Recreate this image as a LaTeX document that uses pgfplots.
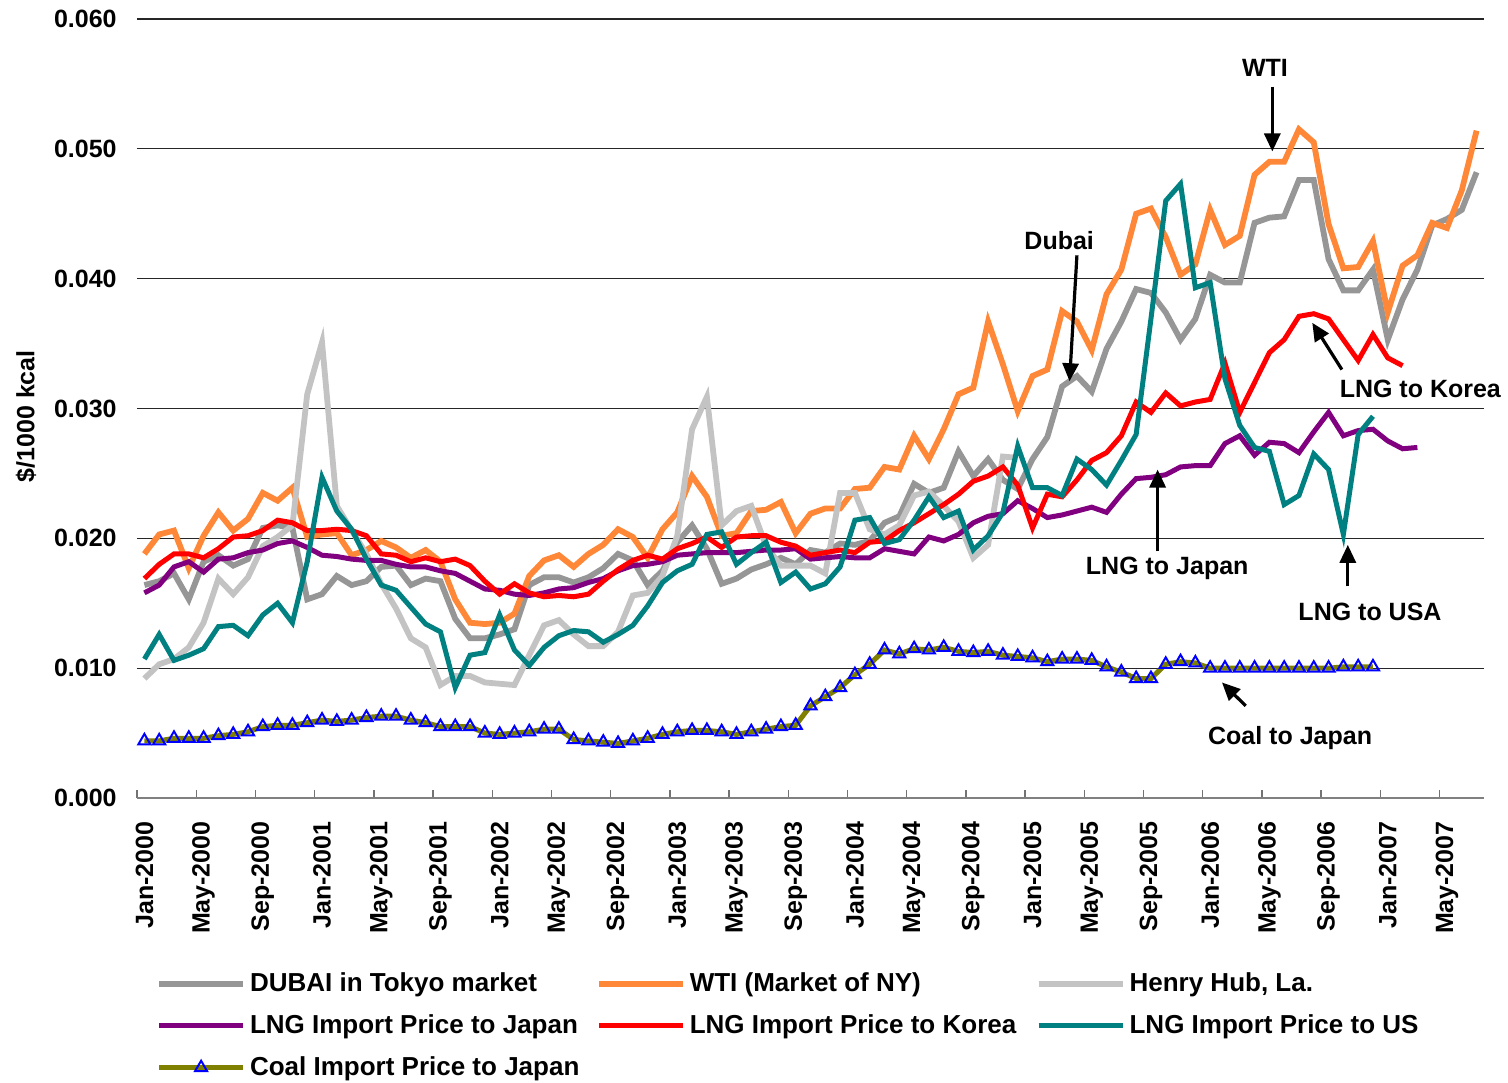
\documentclass[border=0pt]{standalone}
\usepackage{fontspec}
\setmainfont{Liberation Sans}
\usepackage{pgfplots}
\pgfplotsset{compat=1.18}
\usepackage{pgfplotstable}
\usetikzlibrary{arrows.meta}

\definecolor{dubai}{RGB}{150,150,150}
\definecolor{wti}{RGB}{255,136,56}
\definecolor{hh}{RGB}{195,195,195}
\definecolor{lngjp}{RGB}{128,0,128}
\definecolor{lngkr}{RGB}{255,0,0}
\definecolor{lngus}{RGB}{0,128,128}
\definecolor{coal}{RGB}{128,128,0}

\newcommand{\lbl}{\bfseries\fontsize{12.5}{15}\selectfont}

% monthly prices, $/1000 kcal; m = months since Jan-2000
\pgfplotstableread{
m  dubai  wti    hh     lngjp  lngkr  lngus  coal
0  0.0164 0.0188 0.0092 0.0158 0.0169 0.0107 0.0044
1  0.0167 0.0203 0.0103 0.0164 0.0180 0.0126 0.0044
2  0.0173 0.0206 0.0107 0.0178 0.0188 0.0106 0.0046
3  0.0153 0.0177 0.0116 0.0182 0.0188 0.0110 0.0046
4  0.0182 0.0202 0.0135 0.0174 0.0185 0.0115 0.0046
5  0.0187 0.0220 0.0169 0.0184 0.0192 0.0132 0.0048
6  0.0179 0.0206 0.0157 0.0185 0.0201 0.0133 0.0049
7  0.0184 0.0215 0.0170 0.0189 0.0202 0.0125 0.0051
8  0.0208 0.0235 0.0194 0.0191 0.0206 0.0141 0.0055
9  0.0210 0.0229 0.0201 0.0196 0.0214 0.0150 0.0056
10 0.0208 0.0239 0.0210 0.0198 0.0212 0.0135 0.0056
11 0.0153 0.0201 0.0311 0.0193 0.0206 0.0182 0.0058
12 0.0157 0.0203 0.0351 0.0187 0.0206 0.0247 0.0060
13 0.0171 0.0204 0.0225 0.0186 0.0207 0.0221 0.0059
14 0.0164 0.0187 0.0206 0.0184 0.0206 0.0207 0.0060
15 0.0167 0.0191 0.0188 0.0183 0.0202 0.0184 0.0062
16 0.0178 0.0198 0.0165 0.0183 0.0188 0.0164 0.0063
17 0.0179 0.0193 0.0146 0.0180 0.0187 0.0160 0.0063
18 0.0164 0.0185 0.0123 0.0178 0.0182 0.0147 0.0060
19 0.0169 0.0191 0.0116 0.0178 0.0185 0.0134 0.0058
20 0.0167 0.0182 0.0087 0.0175 0.0182 0.0128 0.0055
21 0.0138 0.0153 0.0094 0.0173 0.0184 0.0085 0.0055
22 0.0123 0.0135 0.0094 0.0167 0.0179 0.0110 0.0055
23 0.0123 0.0134 0.0089 0.0161 0.0167 0.0112 0.0050
24 0.0126 0.0135 0.0088 0.0160 0.0157 0.0141 0.0049
25 0.0130 0.0142 0.0087 0.0157 0.0165 0.0114 0.0050
26 0.0164 0.0171 0.0110 0.0156 0.0158 0.0102 0.0051
27 0.0170 0.0183 0.0133 0.0158 0.0155 0.0116 0.0053
28 0.0170 0.0187 0.0137 0.0161 0.0156 0.0125 0.0053
29 0.0166 0.0178 0.0126 0.0162 0.0155 0.0129 0.0045
30 0.0170 0.0188 0.0117 0.0166 0.0157 0.0128 0.0044
31 0.0177 0.0195 0.0117 0.0169 0.0167 0.0120 0.0043
32 0.0188 0.0207 0.0128 0.0175 0.0176 0.0126 0.0042
33 0.0183 0.0201 0.0156 0.0179 0.0183 0.0133 0.0044
34 0.0164 0.0185 0.0158 0.0180 0.0187 0.0148 0.0046
35 0.0175 0.0207 0.0171 0.0182 0.0184 0.0166 0.0049
36 0.0197 0.0220 0.0202 0.0187 0.0192 0.0175 0.0051
37 0.0210 0.0248 0.0284 0.0188 0.0196 0.0180 0.0052
38 0.0192 0.0232 0.0309 0.0189 0.0201 0.0203 0.0052
39 0.0165 0.0202 0.0210 0.0189 0.0193 0.0205 0.0051
40 0.0169 0.0204 0.0221 0.0189 0.0201 0.0180 0.0049
41 0.0176 0.0221 0.0225 0.0190 0.0202 0.0189 0.0051
42 0.0180 0.0222 0.0194 0.0191 0.0202 0.0197 0.0053
43 0.0185 0.0228 0.0179 0.0191 0.0197 0.0166 0.0055
44 0.0180 0.0204 0.0179 0.0192 0.0194 0.0174 0.0056
45 0.0191 0.0219 0.0179 0.0184 0.0187 0.0161 0.0071
46 0.0189 0.0223 0.0173 0.0185 0.0189 0.0165 0.0078
47 0.0196 0.0223 0.0235 0.0186 0.0191 0.0178 0.0085
48 0.0195 0.0238 0.0235 0.0185 0.0189 0.0214 0.0095
49 0.0198 0.0239 0.0207 0.0185 0.0197 0.0216 0.0103
50 0.0212 0.0255 0.0203 0.0192 0.0198 0.0196 0.0114
51 0.0217 0.0253 0.0210 0.0190 0.0206 0.0199 0.0111
52 0.0242 0.0279 0.0233 0.0188 0.0212 0.0214 0.0115
53 0.0235 0.0261 0.0236 0.0201 0.0219 0.0232 0.0114
54 0.0239 0.0284 0.0225 0.0198 0.0226 0.0216 0.0116
55 0.0267 0.0311 0.0213 0.0203 0.0234 0.0221 0.0113
56 0.0248 0.0316 0.0185 0.0212 0.0244 0.0191 0.0112
57 0.0261 0.0367 0.0195 0.0217 0.0248 0.0202 0.0113
58 0.0245 0.0334 0.0263 0.0219 0.0255 0.0220 0.0110
59 0.0238 0.0298 0.0262 0.0229 0.0241 0.0271 0.0109
60 0.0261 0.0325 nan    0.0223 0.0208 0.0239 0.0108
61 0.0278 0.0330 nan    0.0216 0.0234 0.0239 0.0105
62 0.0317 0.0375 nan    0.0218 0.0232 0.0233 0.0107
63 0.0325 0.0367 nan    0.0221 0.0245 0.0261 0.0107
64 0.0313 0.0345 nan    0.0224 0.0260 0.0253 0.0106
65 0.0346 0.0388 nan    0.0220 0.0266 0.0241 0.0101
66 0.0367 0.0407 nan    0.0234 0.0279 0.0260 0.0097
67 0.0392 0.0450 nan    0.0246 0.0305 0.0280 0.0092
68 0.0389 0.0454 nan    0.0247 0.0297 0.0369 0.0092
69 0.0374 0.0432 nan    0.0249 0.0312 0.0460 0.0103
70 0.0353 0.0403 nan    0.0255 0.0302 0.0473 0.0105
71 0.0369 0.0411 nan    0.0256 0.0305 0.0393 0.0104
72 0.0403 0.0453 nan    0.0256 0.0307 0.0397 0.0100
73 0.0397 0.0426 nan    0.0273 0.0335 0.0323 0.0100
74 0.0397 0.0433 nan    0.0279 0.0297 0.0287 0.0100
75 0.0443 0.0480 nan    0.0264 0.0320 0.0270 0.0100
76 0.0447 0.0490 nan    0.0274 0.0343 0.0267 0.0100
77 0.0448 0.0490 nan    0.0273 0.0353 0.0226 0.0100
78 0.0476 0.0515 nan    0.0266 0.0371 0.0233 0.0100
79 0.0476 0.0505 nan    0.0282 0.0373 0.0265 0.0100
80 0.0415 0.0442 nan    0.0297 0.0369 0.0253 0.0100
81 0.0391 0.0408 nan    0.0279 0.0353 0.0203 0.0101
82 0.0391 0.0409 nan    0.0283 0.0337 0.0280 0.0101
83 0.0407 0.0429 nan    0.0284 0.0357 0.0294 0.0101
84 0.0353 0.0374 nan    0.0275 0.0339 nan    nan
85 0.0384 0.0410 nan    0.0269 0.0333 nan    nan
86 0.0407 0.0418 nan    0.0270 nan    nan    nan
87 0.0441 0.0443 nan    nan    nan    nan    nan
88 0.0446 0.0439 nan    nan    nan    nan    nan
89 0.0453 0.0468 nan    nan    nan    nan    nan
90 0.0482 0.0514 nan    nan    nan    nan    nan
}\prices

\begin{document}
\begin{tikzpicture}
\path[use as bounding box] (-68.5pt,-142pt) rectangle (685.5pt,399pt);
\begin{axis}[
    scale only axis,
    width=673.5pt,
    height=389.5pt,
    xmin=-0.5, xmax=90.5,
    ymin=0, ymax=0.06,
    clip=false,
    axis x line*=bottom,
    axis y line*=left,
    y axis line style={draw=none},
    x axis line style={draw=black!50, line width=0.9pt},
    xtick={0,4,...,88},
    xticklabels={Jan-2000,May-2000,Sep-2000,Jan-2001,May-2001,Sep-2001,
        Jan-2002,May-2002,Sep-2002,Jan-2003,May-2003,Sep-2003,
        Jan-2004,May-2004,Sep-2004,Jan-2005,May-2005,Sep-2005,
        Jan-2006,May-2006,Sep-2006,Jan-2007,May-2007},
    major x tick style={draw=none},
    minor xtick={-0.5,3.5,...,88},
    minor x tick style={draw=black!55, line width=0.7pt},
    minor tick length=4pt,
    xtick align=inside,
    ytick={0,0.01,0.02,0.03,0.04,0.05,0.06},
    ytick style={draw=none},
    ymajorgrids,
    y grid style={black!85, line width=0.6pt},
    scaled y ticks=false,
    /pgf/number format/assume math mode=true,
    tick label style={font=\lbl},
    yticklabel style={/pgf/number format/fixed, /pgf/number format/fixed zerofill,
        /pgf/number format/precision=3, inner sep=0pt, xshift=-10pt},
    xticklabel style={rotate=90, anchor=east, inner sep=0pt},
    xticklabel shift=11.5pt,
    ylabel={\$/1000 kcal},
    ylabel style={font=\lbl, at={(axis description cs:-0.0824,0.49)}, anchor=center},
    legend columns=3,
    legend cell align=left,
    legend style={draw=none, fill=none, at={(0.0095,-0.214)}, anchor=north west,
        font=\bfseries\fontsize{13}{15}\selectfont, row sep=6pt, column sep=0pt},
    legend image code/.code={\draw[mark repeat=2,mark phase=2,#1]
        plot coordinates {(0pt,0pt) (21pt,0pt) (42pt,0pt)};},
]
\addplot[dubai, line width=2.9pt] table[x=m, y=dubai] {\prices};
\addlegendentry{\makebox[171pt][l]{DUBAI in Tokyo market}}
\addplot[wti, line width=2.9pt] table[x=m, y=wti] {\prices};
\addlegendentry{\makebox[171pt][l]{WTI (Market of NY)}}
\addplot[hh, line width=2.9pt] table[x=m, y=hh] {\prices};
\addlegendentry{Henry Hub, La.}
\addplot[lngjp, line width=2.5pt] table[x=m, y=lngjp] {\prices};
\addlegendentry{\makebox[171pt][l]{LNG Import Price to Japan}}
\addplot[lngkr, line width=2.5pt] table[x=m, y=lngkr] {\prices};
\addlegendentry{\makebox[171pt][l]{LNG Import Price to Korea}}
\addplot[lngus, line width=2.5pt] table[x=m, y=lngus] {\prices};
\addlegendentry{LNG Import Price to US}
\addplot[coal, line width=2.5pt, mark=triangle, mark size=3.5pt,
    mark options={draw=blue, fill=white, line width=1pt}] table[x=m, y=coal] {\prices};
\addlegendentry{Coal Import Price to Japan}

% annotations
\tikzset{ann/.style={font=\lbl}, arr/.style={-{Triangle[length=9pt,width=8pt]}, line width=1.6pt}}
\node[ann] at (axis cs:75.7,0.0562) {WTI};
\draw[arr] (axis cs:76.2,0.0548) -- (axis cs:76.2,0.0498);
\node[ann] at (axis cs:61.8,0.0429) {Dubai};
\draw[arr] (axis cs:63.0,0.0418) -- (axis cs:62.5,0.0321);
\node[ann] at (axis cs:86.2,0.0315) {LNG to Korea};
\draw[arr] (axis cs:80.9,0.0330) -- (axis cs:78.9,0.0366);
\node[ann] at (axis cs:69.1,0.0177) {LNG to Japan};
\draw[arr] (axis cs:68.45,0.0190) -- (axis cs:68.45,0.0253);
\node[ann] at (axis cs:82.8,0.0143) {LNG to USA};
\draw[arr] (axis cs:81.3,0.0163) -- (axis cs:81.3,0.0195);
\node[ann] at (axis cs:77.4,0.0046) {Coal to Japan};
\draw[arr] (axis cs:74.4,0.0071) -- (axis cs:72.8,0.0089);
\end{axis}
\end{tikzpicture}
\end{document}
